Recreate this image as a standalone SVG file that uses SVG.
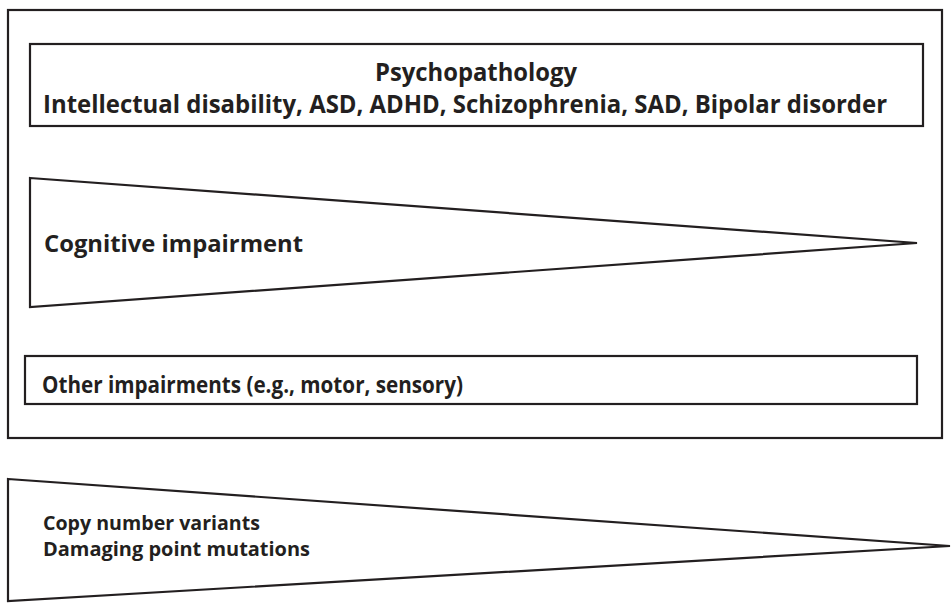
<svg xmlns="http://www.w3.org/2000/svg" width="951" height="611" viewBox="0 0 951 611">
<style>
.sh{fill:#fff;stroke:#231f20;stroke-width:2.2;stroke-linejoin:miter}
.t{font-family:"Open Sans","Noto Sans","Liberation Sans",sans-serif;font-weight:bold;fill:#231f20}
</style>
<rect width="951" height="611" fill="#fff"/>
<g id="frame"><rect class="sh" x="8" y="10" width="934" height="428"/></g>
<g id="psychopathology">
<rect class="sh" x="30" y="44" width="893" height="82"/>
<text class="t" x="476" y="81" font-size="25" text-anchor="middle" textLength="202" lengthAdjust="spacingAndGlyphs">Psychopathology</text>
<text class="t" x="43" y="113" font-size="25" textLength="844" lengthAdjust="spacingAndGlyphs">Intellectual disability, ASD, ADHD, Schizophrenia, SAD, Bipolar disorder</text>
</g>
<g id="cognitive">
<polygon class="sh" points="30,178 917,243 30,307"/>
<text class="t" x="44" y="252" font-size="24" textLength="259" lengthAdjust="spacingAndGlyphs">Cognitive impairment</text>
</g>
<g id="other">
<rect class="sh" x="25" y="356" width="892" height="48"/>
<text class="t" x="42" y="393" font-size="24" textLength="421" lengthAdjust="spacingAndGlyphs">Other impairments (e.g., motor, sensory)</text>
</g>
<g id="variants">
<polygon class="sh" points="8,479 950,546 8,601"/>
<text class="t" x="43" y="530" font-size="20" textLength="217" lengthAdjust="spacingAndGlyphs">Copy number variants</text>
<text class="t" x="43" y="556" font-size="20" textLength="267" lengthAdjust="spacingAndGlyphs">Damaging point mutations</text>
</g>
<g id="connectors"></g>
</svg>
